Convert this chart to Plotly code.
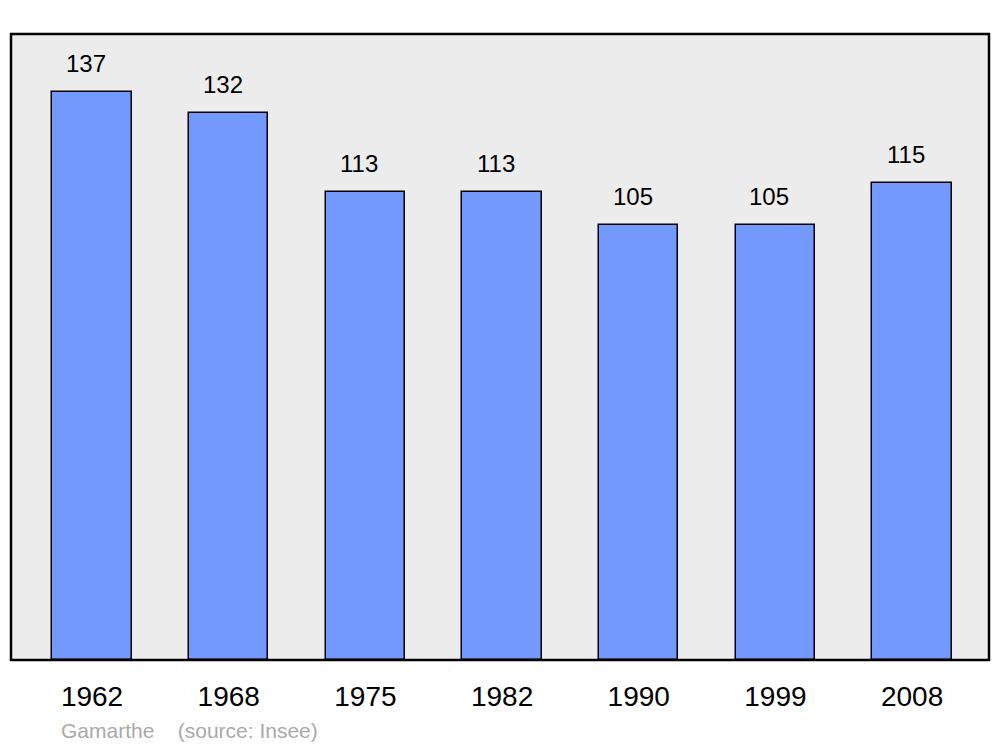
import plotly.graph_objects as go

years = ["1962", "1968", "1975", "1982", "1990", "1999", "2008"]
population = [137, 132, 113, 113, 105, 105, 115]
positions = list(range(len(years)))

fig = go.Figure()
fig.add_trace(go.Bar(
    x=positions, y=population, width=0.58,
    marker=dict(color="#7399FF", line=dict(color="#000000", width=1.5)),
    hoverinfo="skip",
))

for xv, v in zip(positions, population):
    fig.add_annotation(x=xv, y=v, text=str(v), showarrow=False,
                       yanchor="bottom", yshift=13, xshift=-6,
                       font=dict(family="Liberation Sans, Arial", size=24, color="#000000"))

fig.add_annotation(xref="paper", yref="paper", x=0.049, y=-0.112,
                   xanchor="left", yanchor="middle", showarrow=False,
                   text="Gamarthe &nbsp;&nbsp; (source: Insee)",
                   font=dict(family="Liberation Sans, Arial", size=21, color="#AAAAAA"))

fig.add_shape(type="rect", xref="paper", yref="paper", x0=0, x1=1, y0=0, y1=1,
              line=dict(color="#000000", width=2.5), fillcolor="rgba(0,0,0,0)", layer="above")

fig.update_layout(
    width=1000, height=747,
    margin=dict(l=11, r=11, t=34, b=87),
    paper_bgcolor="#FFFFFF", plot_bgcolor="#ECECEC",
    showlegend=False, bargap=0,
    xaxis=dict(range=[-0.593, 6.563], tickmode="array", tickvals=positions, ticktext=years,
               showgrid=False, zeroline=False, showline=False, ticks="",
               ticklabelstandoff=17,
               tickfont=dict(family="Liberation Sans, Arial", size=28, color="#000000")),
    yaxis=dict(range=[0, 151], showgrid=False, zeroline=False, showticklabels=False, showline=False),
)

fig.write_html("out.html", config={"displayModeBar": False},
               post_script="document.body.style.margin='0';document.body.style.overflow='hidden';")
